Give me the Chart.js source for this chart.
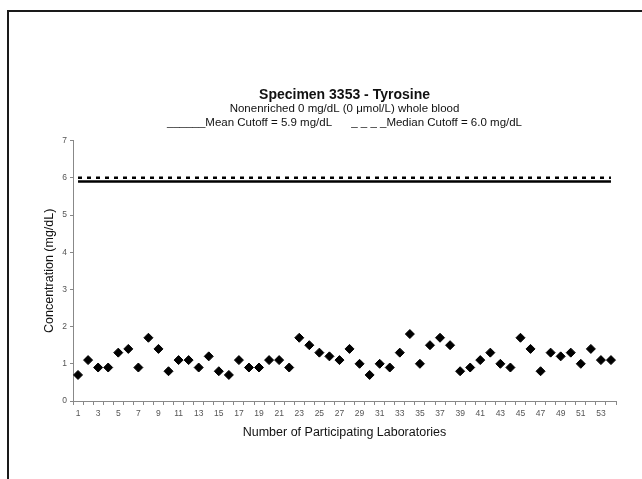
<!DOCTYPE html>
<html>
<head>
<meta charset="utf-8">
<script src="https://cdn.jsdelivr.net/npm/chart.js@4.4.1/dist/chart.umd.min.js"></script>
<style>
  html, body { margin: 0; padding: 0; background: #fff; }
  body { width: 642px; height: 479px; position: relative; overflow: hidden; }
  #frame { position: absolute; left: 7px; top: 10px; width: 700px; height: 500px;
           border-top: 2px solid #1a1a1a; border-left: 2px solid #1a1a1a; }
  #wrap { position: absolute; left: 0; top: 0; width: 642px; height: 479px; }
</style>
</head>
<body>
<div id="frame"></div>
<div id="wrap"><canvas id="c" width="642" height="479"></canvas></div>
<script>
// Participating laboratories (category axis)
const labs = ['1','2','3','4','5','6','7','8','9','10','11','12','13','14','15','16','17','18',
  '19','20','21','22','23','24','25','26','27','28','29','30','31','32','33','34','35','36',
  '37','38','39','40','41','42','43','44','45','46','47','48','49','50','51','52','53','54'];

// Reported tyrosine concentration per laboratory (mg/dL)
const concentrations = [0.7,1.1,0.9,0.9,1.3,1.4,0.9,1.7,1.4,0.8,
  1.1,1.1,0.9,1.2,0.8,0.7,1.1,0.9,0.9,1.1,
  1.1,0.9,1.7,1.5,1.3,1.2,1.1,1.4,1.0,0.7,
  1.0,0.9,1.3,1.8,1.0,1.5,1.7,1.5,0.8,0.9,
  1.1,1.3,1.0,0.9,1.7,1.4,0.8,1.3,1.2,1.3,
  1.0,1.4,1.1,1.1];

// Cutoff values (mg/dL)
const meanCutoff = 5.9;
const medianCutoff = 6.0;

// Y axis tick values
const yTicks = [0,1,2,3,4,5,6,7];

const firstLab = labs[0];
const lastLab = labs[labs.length - 1];
const FONT = 'Liberation Sans, Arial, sans-serif';

new Chart(document.getElementById('c'), {
  type: 'line',
  data: {
    labels: labs,
    datasets: [
      {
        label: 'Median Cutoff',
        data: [{x: firstLab, y: medianCutoff}, {x: lastLab, y: medianCutoff}],
        borderColor: '#000',
        borderWidth: 2.5,
        borderDash: [4, 5],
        pointRadius: 0,
        fill: false
      },
      {
        label: 'Mean Cutoff',
        data: [{x: firstLab, y: meanCutoff}, {x: lastLab, y: meanCutoff}],
        borderColor: '#000',
        borderWidth: 2.5,
        pointRadius: 0,
        fill: false
      },
      {
        label: 'Concentration',
        data: concentrations,
        showLine: false,
        pointStyle: 'rectRot',
        pointRadius: 4.5,
        pointBackgroundColor: '#000',
        pointBorderColor: '#000',
        pointBorderWidth: 1
      }
    ]
  },
  options: {
    responsive: false,
    animation: false,
    devicePixelRatio: 1,
    layout: { padding: { left: 37, right: 26, top: 0, bottom: 36 } },
    plugins: {
      legend: { display: false },
      tooltip: { enabled: false },
      title: {
        display: true,
        fullSize: false,
        text: 'Specimen 3353 - Tyrosine',
        color: '#111',
        font: { family: FONT, size: 14, weight: 'bold', lineHeight: 1.0 },
        padding: { top: 88, bottom: 0 }
      },
      subtitle: {
        display: true,
        fullSize: false,
        text: ['Nonenriched 0 mg/dL (0 \u03bcmol/L) whole blood',
               '______Mean Cutoff = 5.9 mg/dL      _ _ _ _Median Cutoff = 6.0 mg/dL'],
        color: '#111',
        font: { family: FONT, size: 11.5, lineHeight: 1.2 },
        padding: { top: 0, bottom: 11 }
      }
    },
    scales: {
      x: {
        type: 'category',
        offset: true,
        grid: { offset: true, drawOnChartArea: false, tickLength: 4, color: '#888' },
        border: { color: '#888', width: 1 },
        ticks: {
          autoSkip: false, maxRotation: 0, minRotation: 0, padding: 4,
          color: '#555',
          font: { family: FONT, size: 8.5 },
          callback: (v, i) => (i % 2 === 0 ? labs[i] : '')
        },
        title: {
          display: true,
          text: 'Number of Participating Laboratories',
          color: '#111',
          font: { family: FONT, size: 12.5 },
          padding: { top: 4, bottom: 3 }
        },
        afterFit: (s) => { s.height = 42; }
      },
      y: {
        min: yTicks[0],
        max: yTicks[yTicks.length - 1],
        afterBuildTicks: (s) => { s.ticks = yTicks.map(v => ({ value: v })); },
        grid: { drawOnChartArea: false, tickLength: 3, color: '#888' },
        border: { color: '#888', width: 1 },
        ticks: {
          padding: 3, color: '#555',
          font: { family: FONT, size: 8.5 }
        },
        title: {
          display: true,
          text: 'Concentration (mg/dL)',
          color: '#111',
          font: { family: FONT, size: 12.5 },
          padding: { top: 5, bottom: 4 }
        },
        afterFit: (s) => { s.width = 36; }
      }
    }
  }
});
</script>
</body>
</html>
